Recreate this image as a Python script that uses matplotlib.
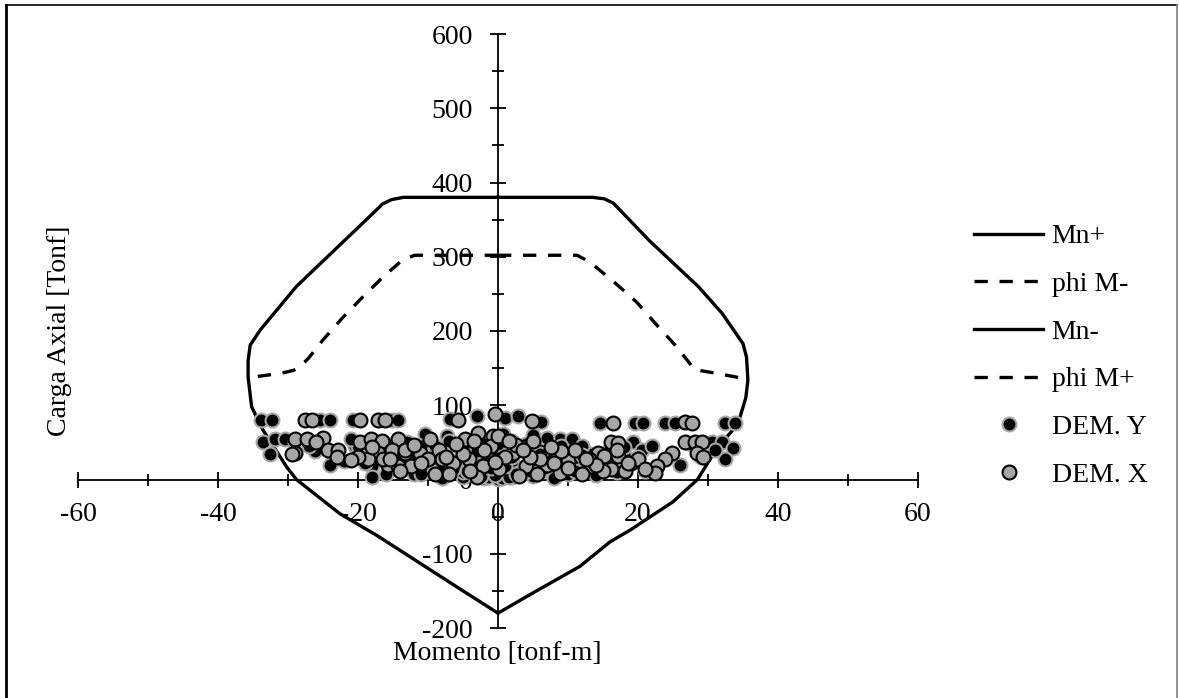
import numpy as np
import matplotlib
matplotlib.use("Agg")
import matplotlib.pyplot as plt
from matplotlib.lines import Line2D
from matplotlib.ticker import MultipleLocator

plt.rcParams['font.family'] = ['Liberation Serif', 'DejaVu Serif']
plt.rcParams['axes.unicode_minus'] = False

# interaction diagram, right half (Mn+) and left half (Mn-)
mn_pos_x = [0, 13.5, 15.2, 16.5, 21.7, 28.6, 32.0, 35.0, 35.5, 35.7, 35.4, 34.6, 33.5, 31.4, 28.5, 25.0, 18.9, 16.0, 11.7, 5.5, 0]
mn_pos_y = [380, 380, 378, 372, 321, 260, 224, 183, 165, 134, 110, 85, 66, 44, 0, -30, -68, -84, -117, -150, -180]
mn_neg_x = [0, -13.5, -15.2, -16.5, -18.8, -28.8, -34.0, -35.4, -35.7, -35.7, -35.2, -33.6, -30.2, -28.8, -22.6, -17.2, -11.1, -5.5, 0]
mn_neg_y = [380, 380, 377, 371, 350, 260, 201, 181, 160, 138, 98, 67, 17, 0, -46, -76, -113, -147, -180]

# reduced diagram, phi M+ (right) and phi M- (left)
phi_pos_x = [0, 5.3, 11.3, 13.1, 16.7, 19.8, 22.4, 25.3, 27.0, 28.1, 31.2, 35.7]
phi_pos_y = [302, 302, 302, 293, 265, 239, 211, 181, 161, 148, 143, 135]
phi_neg_x = [0, -11.9, -13.6, -16.4, -19.3, -22.1, -25.0, -27.1, -28.3, -29.2, -31.0, -35.0]
phi_neg_y = [302, 302, 296, 273, 246, 219, 188, 163, 152, 147, 143, 138]

# demands, direction Y (black)
dem_y_x = [-33.8, -32.3, -25.4, -24.0, -20.7, -15.2, -14.3, -6.9, -3.0, 1.0, 2.9, 6.2, 14.6, 19.6, 20.7, 23.9, 25.3, 32.4, 33.9,
           -33.6, -31.9, -30.4, -26.1, -32.6, -23.6, -10.4, -7.3, 0.7, 8.9, 10.5, 19.3, 20.5, 30.6, 32.0, 33.6, 32.4, 26.0,
           -20.4, -19.5, -18.0, -15.2, -13.8, -11.9,
           -12, -10, -9, -8, -7, -6, -5, -5, -4, -3, -3, -2, -2, -1, -1, 0, 0, 0, 1, 1, 2, 2, 3, 3, 4, 5, 5, 6, 7, 8, 8,
           10, 11, 12, 14, 15, 17, -14, -16, -18, -22, -9, 9, -4, 4, 13, -27, -24, 22, 12, -11, 6,
           -1.5, 0.5, 1.5, -0.5, 2.5, -2.5, 3.5, -3.5, 4.5, -4.5, -6.5, 6.5, -8.5, 8.5, -10.5, 10.5, -13, 13,
           -1, 1, -2, 2, -3, 3, -6, 6, -9, 9, -12, 12, -15, 15, -18, 18, -20, 20, -16, 16, -7, 7,
           -21, -19, -17, -13, 16, 18, 21, -2, 2, -5, 5, 0, 0, -8, 8, 11, -11, 27.5, -29, 29, 31]
dem_y_y = [80, 80, 80, 80, 80, 80, 80, 81, 85, 83, 85, 78, 76, 76, 76, 76, 76, 76, 76,
           50, 55, 55, 38, 34, 30, 61, 59, 61, 54, 54, 50, 40, 50, 50, 42, 27, 20,
           45, 36, 18, 16, 14, 27,
           8, 12, 20, 6, 15, 25, 4, 10, 18, 6, 30, 12, 2, 22, 6, 1, 10, 35, 5, 15, 25, 3, 9, 40, 14, 5, 22, 10, 30, 4, 16,
           8, 20, 12, 6, 25, 10, 30, 8, 4, 25, 45, 45, 50, 48, 35, 45, 20, 45, 45, 45, 40,
           3, 2, 4, 6, 7, 5, 9, 8, 11, 12, 14, 15, 18, 17, 20, 22, 24, 26,
           16, 18, 26, 30, 38, 42, 46, 34, 32, 28, 36, 33, 28, 30, 38, 35, 45, 30, 48, 42, 52, 56,
           55, 22, 42, 50, 20, 44, 12, 48, 52, 44, 60, 55, 48, 2, 2, 12, 8, 48, 50, 30, 40]

# demands, direction X (grey)
dem_x_x = [-27.6, -26.6, -19.7, -17.1, -16.1, -5.7, -0.4, 4.8, 16.4, 26.7, 27.7,
           -29.0, -27.3, -25.0, -24.3, -22.9, -29.0, -29.5, -9.7, -4.7, -2.9, -0.7, 5.0, 9.6, 16.2, 17.1, 26.7, 28.1, 29.1,
           -19.7, -18.1, -16.6, -14.3, -17.1, -15.2, -13.3, -12.4, -18.6, -15.7,
           -13.3, -11.2, -8.4, -6.4, -4.1, -2.1, 0.2, 2.1, 4.0, 5.9, 8.8, -9.4, -14.3,
           24.8, 23.9, 22.7, 22.4, 28.4, 29.3, 14.3, 15.2, 17.1, 18.1, 13.3, 16.2,
           -7, -3, 3, 7, 10, 11, -1, 1, -5, 6, 12, -10, 19, 20,
           -20, -18, -16.5, -11, -8, -6, -2, 0, 2.5, 4.5, 8, 10, 13, 15, 18.5, -26, -23, -21, -12,
           -0.5, 1.5, -4, 3.5, 9, -9, 14, -14, 17, 21, -7.5, 7.5, -3.5, 5.5, 12.5, -15.5]
dem_x_y = [80, 80, 80, 80, 80, 80, 88, 79, 76, 78, 76,
           55, 54, 56, 40, 40, 36, 34, 54, 55, 63, 59, 52, 34, 50, 49, 51, 51, 50,
           50, 54, 52, 54, 36, 40, 36, 18, 27, 20,
           40, 36, 40, 22, 27, 18, 14, 36, 18, 14, 9, 14, 18,
           36, 27, 18, 9, 36, 30, 36, 32, 32, 12, 18, 14,
           8, 4, 5, 20, 25, 40, 45, 30, 35, 28, 8, 28, 22, 28,
           30, 44, 28, 22, 28, 48, 40, 58, 46, 30, 22, 16, 28, 12, 22, 50, 30, 26, 46,
           24, 52, 12, 40, 38, 8, 20, 12, 40, 14, 30, 44, 52, 8, 28, 28]

fig = plt.figure(figsize=(11.79, 6.98), dpi=100)
ax = fig.add_axes([78/1179, 70/698, 840/1179, 594/698])

ax.plot(mn_pos_x, mn_pos_y, color='black', lw=2.4, label='Mn+', zorder=3)
ax.plot(phi_neg_x, phi_neg_y, color='black', lw=2.4, dashes=(4, 3.5), label='phi M-', zorder=3)
ax.plot(mn_neg_x, mn_neg_y, color='black', lw=2.4, label='Mn-', zorder=3)
ax.plot(phi_pos_x, phi_pos_y, color='black', lw=2.4, dashes=(4, 3.5), label='phi M+', zorder=3)
ax.plot(dem_y_x, dem_y_y, ls='none', marker='o', ms=10, mfc='black', mec='#a6a6a6', mew=1.5,
        label='DEM. Y', zorder=4)
ax.plot(dem_x_x, dem_x_y, ls='none', marker='o', ms=10, mfc='#a6a6a6', mec='black', mew=1.5,
        label='DEM. X', zorder=5)

ax.set_xlim(-60, 60)
ax.set_ylim(-200, 600)
ax.spines['left'].set_position(('data', 0))
ax.spines['bottom'].set_position(('data', 0))
ax.spines['right'].set_visible(False)
ax.spines['top'].set_visible(False)
for s in ['left', 'bottom']:
    ax.spines[s].set_linewidth(1.3)
    ax.spines[s].set_zorder(1)

ax.xaxis.set_major_locator(MultipleLocator(20))
ax.xaxis.set_minor_locator(MultipleLocator(10))
ax.yaxis.set_major_locator(MultipleLocator(100))
ax.yaxis.set_minor_locator(MultipleLocator(50))
ax.tick_params(which='major', direction='inout', length=12, width=1.3, labelsize=20)
ax.tick_params(which='minor', direction='inout', length=9, width=1.3)
ax.tick_params(axis='x', which='major', pad=10)
ax.tick_params(axis='y', which='major', pad=12)
ax.patch.set_visible(False)

fig.text(60/1179, 1 - 331/698, 'Carga Axial [Tonf]', rotation=90, fontsize=20, ha='center', va='center')
fig.text(497/1179, 1 - 654/698, 'Momento [tonf-m]', fontsize=20, ha='center', va='center')

fig.legend(loc='upper left', bbox_to_anchor=(960/1179, 1 - 210/698), frameon=False, borderpad=0,
           handlelength=2.5, handletextpad=0.3, labelspacing=0.8, fontsize=20, numpoints=1)

# chart border
fig.add_artist(Line2D([6/1179, 6/1179], [0, 1 - 5/698], color='black', lw=2))
fig.add_artist(Line2D([6/1179, 1177/1179], [1 - 5/698, 1 - 5/698], color='black', lw=1.2))
fig.add_artist(Line2D([1177/1179, 1177/1179], [0, 1 - 5/698], color='#808080', lw=1.2))

fig.savefig('out.png', dpi=100)
